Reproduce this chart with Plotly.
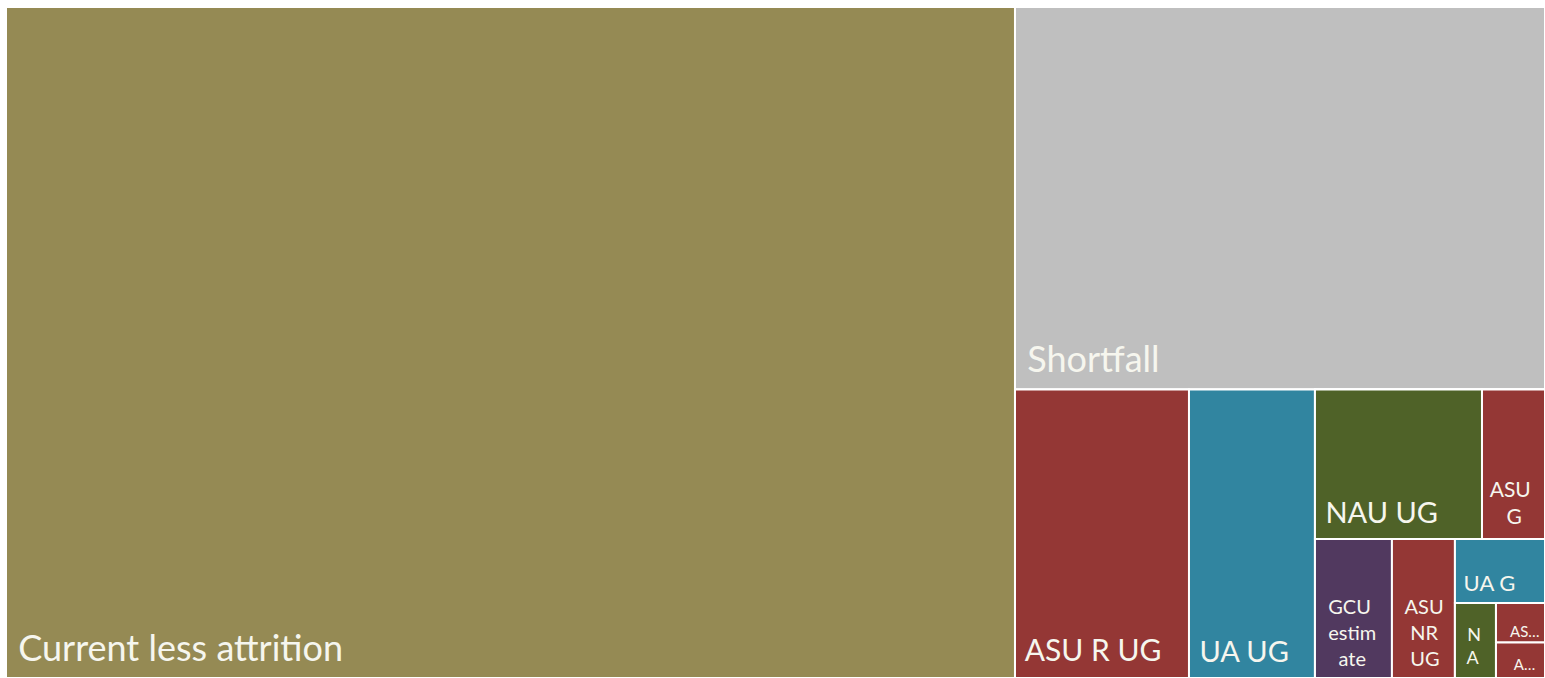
import plotly.graph_objects as go

# Graduate supply breakdown (leaf nodes)
names = [
    "Current less attrition", "Shortfall", "ASU R UG", "UA UG", "NAU UG",
    "ASU G", "GCU estimate", "ASU NR UG", "UA G", "NAU G", "ASU NR G", "ASU Online",
]
# Tile captions, one entry per wrapped line
caption_lines = [
    ["Current less attrition"], ["Shortfall"], ["ASU R UG"], ["UA UG"], ["NAU UG"],
    ["ASU", "G"], ["GCU", "estim", "ate"], ["ASU", "NR", "UG"], ["UA G"], ["N", "A"],
    ["AS…"], ["A…"],
]
values = [677000, 202700, 50200, 36350, 24970, 9420, 10700, 8760, 5760, 3080, 1940, 1740]
institution = ["base", "gap", "ASU", "UA", "NAU", "ASU", "GCU", "ASU", "UA", "NAU", "ASU", "ASU"]

# Nested grouping blocks that arrange the tiles (slice/dice alternates by depth)
groups = ["all", "rest", "new", "new_r", "new_r_top", "new_r_bot", "small", "small_b", "tiny"]
group_parent = ["", "all", "rest", "new", "new_r", "new_r", "new_r_bot", "small", "small_b"]
leaf_parent = ["all", "rest", "new", "new", "new_r_top", "new_r_top",
               "new_r_bot", "new_r_bot", "small", "small_b", "tiny", "tiny"]

palette = {
    "base": "#958A54",
    "gap": "#BFBFBF",
    "ASU": "#943735",
    "UA": "#3185A0",
    "NAU": "#4F6228",
    "GCU": "#51395F",
}
font_sizes = [36, 36, 30, 29, 29, 21, 20, 20, 22, 18, 15, 15]
# leading spaces per caption line (rough centring inside narrow tiles)
indents = [[1], [1], [1], [1], [1], [1, 4], [2, 2, 4], [2, 3, 3], [1], [2, 2], [3], [4]]
# size of an invisible trailing glyph that lifts the caption off the tile bottom
lift = [64, 64, 64, 62, 62, 54, 44, 44, 44, 52, 0, 22]


def caption(k):
    lines = ["&nbsp;" * n + s for s, n in zip(caption_lines[k], indents[k])]
    out = "<br>".join(lines)
    if lift[k]:
        out += '<span style="font-size:%dpx">&nbsp;</span>' % lift[k]
    return out


# Order matters: layout follows the order nodes are listed in
order_ids = ["all", "Current less attrition", "rest", "Shortfall", "new",
             "ASU R UG", "UA UG", "new_r", "new_r_top", "NAU UG", "ASU G",
             "new_r_bot", "GCU estimate", "ASU NR UG", "small", "UA G",
             "small_b", "NAU G", "tiny", "ASU NR G", "ASU Online"]

ids, parents, vals, texts, colors, fsizes = [], [], [], [], [], []
for nid in order_ids:
    ids.append(nid)
    if nid in groups:
        k = groups.index(nid)
        parents.append(group_parent[k])
        vals.append(0)
        texts.append("")
        colors.append("#FFFFFF")
        fsizes.append(10)
    else:
        k = names.index(nid)
        parents.append(leaf_parent[k])
        vals.append(values[k])
        texts.append(caption(k))
        colors.append(palette[institution[k]])
        fsizes.append(font_sizes[k])

fig = go.Figure(go.Treemap(
    ids=ids,
    labels=[nid if nid in names else " " for nid in ids],
    parents=parents,
    values=vals,
    text=texts,
    texttemplate="%{text}",
    branchvalues="remainder",
    sort=False,
    tiling=dict(packing="slice-dice", pad=0),
    marker=dict(
        colors=colors,
        line=dict(color="#FFFFFF", width=2),
        pad=dict(t=0, l=0, r=0, b=0),
        depthfade=False,
    ),
    pathbar=dict(visible=False),
    textposition="bottom left",
    textfont=dict(family="Lato", size=fsizes, color="#F6F6EE"),
    hoverinfo="label+value",
    root=dict(color="#FFFFFF"),
))

fig.update_layout(
    width=1545, height=678,
    margin=dict(l=6, r=0, t=7, b=0),
    paper_bgcolor="#FFFFFF",
)

fig.write_html("out.html")
